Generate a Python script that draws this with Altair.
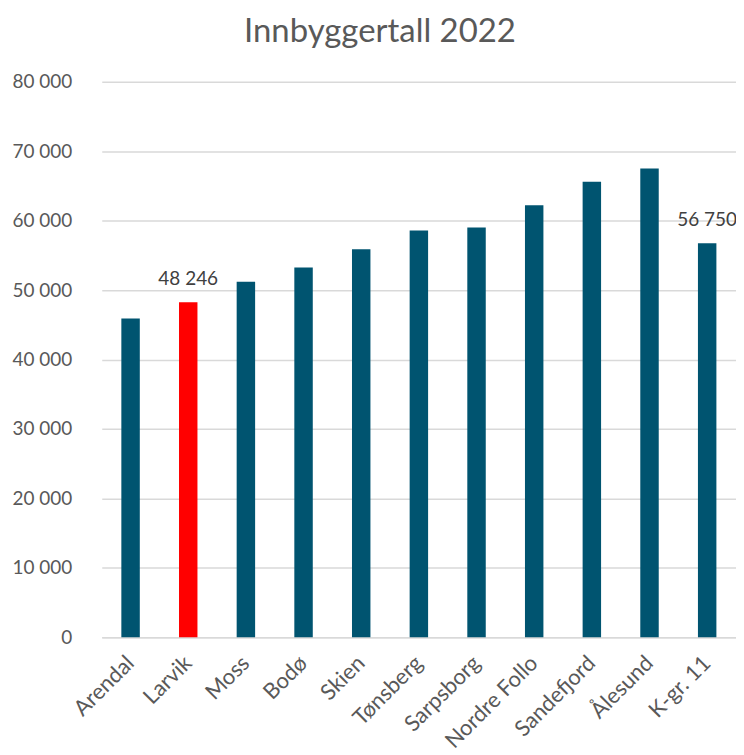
import altair as alt
import pandas as pd

kommuner = ["Arendal", "Larvik", "Moss", "Bodø", "Skien", "Tønsberg", "Sarpsborg",
            "Nordre Follo", "Sandefjord", "Ålesund", "K-gr. 11"]
innbyggere = [45900, 48246, 51200, 53270, 55900, 58590, 59020, 62230, 65600, 67510, 56750]
farger = ["#005470", "#FF0000", "#005470", "#005470", "#005470", "#005470", "#005470",
          "#005470", "#005470", "#005470", "#005470"]
etiketter = ["", "48 246", "", "", "", "", "", "", "", "", "56 750"]

df = pd.DataFrame({"kommune": kommuner, "verdi": innbyggere, "farge": farger, "etikett": etiketter})

FONT = "Lato"
GREY = "#595959"

x = alt.X("kommune:N", sort=kommuner, title=None,
          scale=alt.Scale(paddingInner=0.68, paddingOuter=0.34),
          axis=alt.Axis(labelAngle=-45, labelAlign="right", labelBaseline="middle",
                        labelFontSize=22, labelColor=GREY, labelFont=FONT,
                        ticks=False, domain=True, domainColor="#D9D9D9", domainWidth=1.5,
                        labelPadding=22))

base = alt.Chart(df).encode(x=x)

bars = base.mark_bar().encode(
    y=alt.Y("verdi:Q", title=None,
            scale=alt.Scale(domain=[0, 80000], nice=False),
            axis=alt.Axis(values=list(range(0, 80001, 10000)),
                          labelExpr="replace(format(datum.value, ','), ',', ' ')",
                          labelFontSize=19, labelColor=GREY, labelFont=FONT,
                          ticks=False, domain=False, labelPadding=30,
                          gridColor="#D9D9D9", gridWidth=1.5)),
    color=alt.Color("farge:N", scale=None),
)

text = base.mark_text(baseline="bottom", dy=-13, fontSize=19, font=FONT, color="#404040").encode(
    y=alt.Y("verdi:Q"),
    text="etikett:N",
)

chart = (bars + text).properties(
    width=636, height=557,
    title=alt.TitleParams("Innbyggertall 2022", fontSize=33, font=FONT, color=GREY,
                          fontWeight="normal", anchor="middle", dx=-39, offset=24),
    autosize=alt.AutoSizeParams(type="none"),
    padding={"left": 94, "top": 73, "right": 0, "bottom": 110},
).configure_view(stroke=None)

chart.save("out.html", embed_options={"renderer": "svg", "actions": False})
